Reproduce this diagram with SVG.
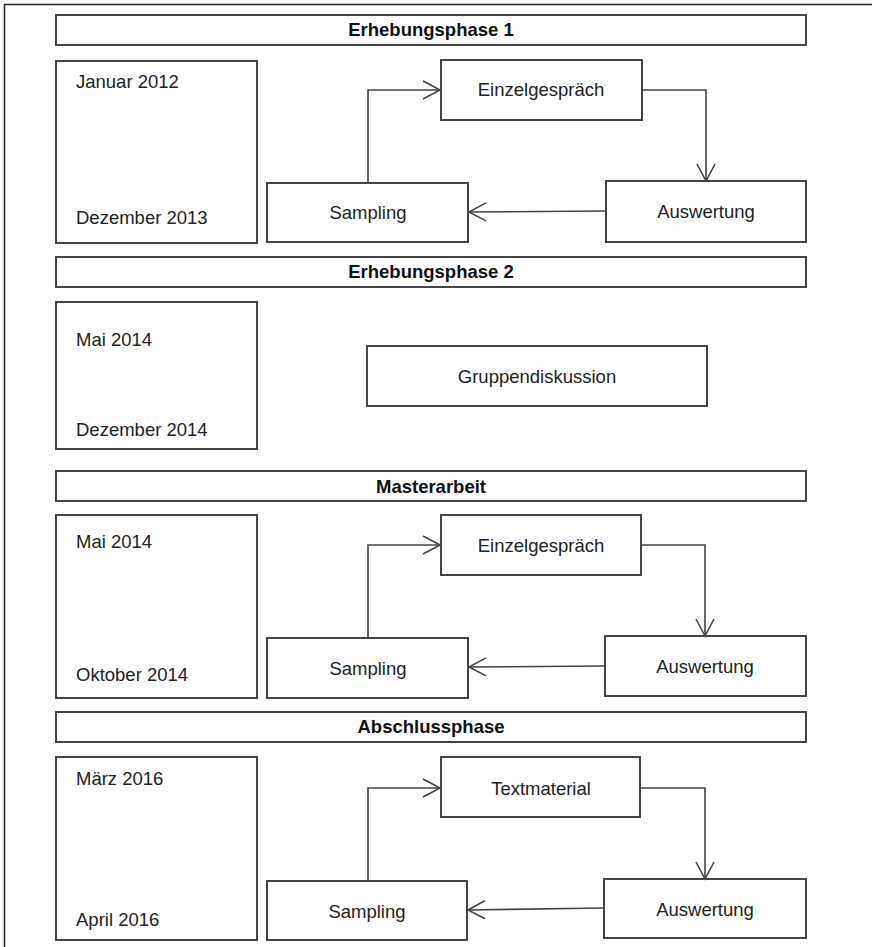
<svg xmlns="http://www.w3.org/2000/svg" width="872" height="947" viewBox="0 0 872 947">
<style>
.box{fill:#fff;stroke:#444;stroke-width:2}
.frame{fill:#fff;stroke:#222;stroke-width:1.5}
.t{font-family:"Liberation Sans",Arial,sans-serif;font-size:18.5px;fill:#222}
.c{text-anchor:middle}
.h{font-weight:bold;fill:#111}
.con{fill:none;stroke:#444;stroke-width:1.6}
</style>
<defs>
<marker id="arr" markerUnits="userSpaceOnUse" markerWidth="20" markerHeight="20" viewBox="0 0 20 20" refX="18" refY="10" orient="auto">
<path d="M1,1 L18,10 L1,19" fill="none" stroke="#444" stroke-width="1.6"/>
</marker>
</defs>
<rect class="frame" x="4.5" y="4.5" width="900" height="1000"/>

<g id="header1"><rect class="box" x="56" y="15" width="750" height="30"/><text class="t c h" x="431" y="36">Erhebungsphase 1</text></g>
<g id="time1"><rect class="box" x="56" y="61" width="201" height="182"/><text class="t" x="76" y="88">Januar 2012</text><text class="t" x="76" y="224">Dezember 2013</text></g>
<g id="einzel1"><rect class="box" x="441" y="60" width="201" height="60"/><text class="t c" x="541" y="96">Einzelgespräch</text></g>
<g id="sampling1"><rect class="box" x="267" y="183" width="201" height="59"/><text class="t c" x="368" y="219">Sampling</text></g>
<g id="auswertung1"><rect class="box" x="606" y="181" width="200" height="61"/><text class="t c" x="706" y="218">Auswertung</text></g>

<g id="header2"><rect class="box" x="56" y="257" width="750" height="30"/><text class="t c h" x="431" y="278">Erhebungsphase 2</text></g>
<g id="time2"><rect class="box" x="56" y="302" width="201" height="147"/><text class="t" x="76" y="346">Mai 2014</text><text class="t" x="76" y="436">Dezember 2014</text></g>
<g id="gruppe"><rect class="box" x="367" y="346" width="340" height="60"/><text class="t c" x="537" y="383">Gruppendiskussion</text></g>

<g id="header3"><rect class="box" x="56" y="471" width="750" height="30"/><text class="t c h" x="431" y="493">Masterarbeit</text></g>
<g id="time3"><rect class="box" x="56" y="515" width="201" height="183"/><text class="t" x="76" y="548">Mai 2014</text><text class="t" x="76" y="681">Oktober 2014</text></g>
<g id="einzel3"><rect class="box" x="441" y="515" width="200" height="60"/><text class="t c" x="541" y="552">Einzelgespräch</text></g>
<g id="sampling3"><rect class="box" x="267" y="638" width="201" height="60"/><text class="t c" x="368" y="675">Sampling</text></g>
<g id="auswertung3"><rect class="box" x="605" y="636" width="201" height="60"/><text class="t c" x="705" y="673">Auswertung</text></g>

<g id="header4"><rect class="box" x="56" y="712" width="750" height="30"/><text class="t c h" x="431" y="733">Abschlussphase</text></g>
<g id="time4"><rect class="box" x="56" y="757" width="201" height="183"/><text class="t" x="76" y="785">März 2016</text><text class="t" x="76" y="926">April 2016</text></g>
<g id="textmaterial"><rect class="box" x="441" y="757" width="199" height="60"/><text class="t c" x="541" y="795">Textmaterial</text></g>
<g id="sampling4"><rect class="box" x="267" y="881" width="200" height="59"/><text class="t c" x="367" y="918">Sampling</text></g>
<g id="auswertung4"><rect class="box" x="604" y="879" width="202" height="59"/><text class="t c" x="705" y="916">Auswertung</text></g>

<g id="connectors">
<path class="con" d="M368,183 V90 H440" marker-end="url(#arr)"/>
<path class="con" d="M642,90 H706 V181" marker-end="url(#arr)"/>
<path class="con" d="M606,211 L469,212" marker-end="url(#arr)"/>
<path class="con" d="M368,638 V545 H440" marker-end="url(#arr)"/>
<path class="con" d="M641,545 H705 V636" marker-end="url(#arr)"/>
<path class="con" d="M605,666 L469,667" marker-end="url(#arr)"/>
<path class="con" d="M368,881 V788 H440" marker-end="url(#arr)"/>
<path class="con" d="M640,788 H705 V879" marker-end="url(#arr)"/>
<path class="con" d="M604,908 L468,910" marker-end="url(#arr)"/>
</g>
</svg>
